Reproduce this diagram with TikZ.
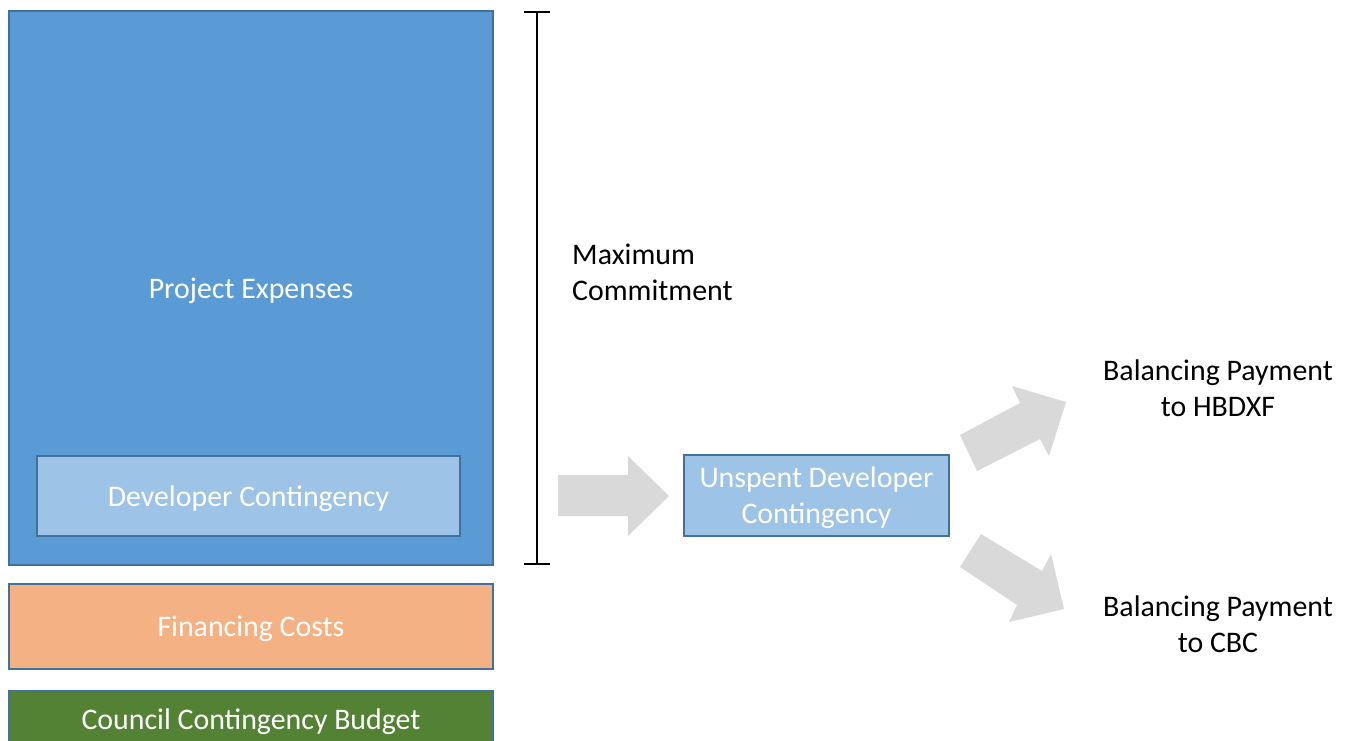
\documentclass[tikz,border=0pt]{standalone}
\usepackage{fontspec}
\setmainfont{Carlito}
\definecolor{blu}{HTML}{5B9BD5}
\definecolor{bluchiaro}{HTML}{9DC3E6}
\definecolor{bordo}{HTML}{41719C}
\definecolor{arancio}{HTML}{F4B183}
\definecolor{verde}{HTML}{548235}
\definecolor{grigio}{HTML}{D9D9D9}
\tikzset{
  blocco/.style={draw=bordo,line width=1pt,text=white,inner sep=0pt,text depth=0pt},
  freccia/.style={fill=grigio,draw=none},
  testo/.style={text=black,align=center}
}
\begin{document}
\begin{tikzpicture}[x=0.02cm,y=-0.02cm,font=\fontsize{17}{20.5}\selectfont]
\useasboundingbox (0,0) rectangle (1348,740);

\begin{scope}
\clip (0,0) rectangle (1348,740);
\node[blocco,fill=blu,minimum width=9.68cm,minimum height=11.08cm] (progetto) at (251,288) {};
\node[text=white] (progettotxt) at (251,291) {Project Expenses};
\node[blocco,fill=bluchiaro,minimum width=8.46cm,minimum height=1.6cm] (contsvil) at (248.5,496) {Developer Contingency};
\node[blocco,fill=arancio,minimum width=9.68cm,minimum height=1.7cm] (finanz) at (251,626.5) {Financing Costs};
\node[blocco,fill=verde,minimum width=9.68cm,minimum height=1.14cm] (consiglio) at (251,719.5) {Council Contingency Budget};
\end{scope}

% parentesi
\coordinate (pa) at (537,12);
\coordinate (pb) at (537,564);
\draw[line width=1pt] (pa) -- (pb);
\draw[line width=1pt] ([xshift=-0.26cm]pa) -- ([xshift=0.26cm]pa);
\draw[line width=1pt] ([xshift=-0.26cm]pb) -- ([xshift=0.26cm]pb);
\node[testo,align=left,anchor=west] (massimo) at (566,272) {Maximum\\Commitment};

% frecce
\fill[freccia] (558,475) -- (628,475) -- (628,456) -- (669,496) -- (628,536) -- (628,516) -- (558,516) -- cycle;
\fill[freccia] (960,435) -- (1020,403) -- (1012,386) -- (1066,402) -- (1049,456) -- (1040,439) -- (977,471) -- cycle;
\fill[freccia] (981,534) -- (1042,571) -- (1051,554) -- (1064,609) -- (1009,622) -- (1017,605) -- (960,567) -- cycle;

\node[blocco,fill=bluchiaro,minimum width=5.3cm,minimum height=1.62cm,align=center] (inutil) at (816.5,495.5) {Unspent Developer\\Contingency};

\node[testo] (hbdxf) at (1218,388) {Balancing Payment\\to HBDXF};
\node[testo] (cbc) at (1218,624) {Balancing Payment\\to CBC};
\end{tikzpicture}
\end{document}
